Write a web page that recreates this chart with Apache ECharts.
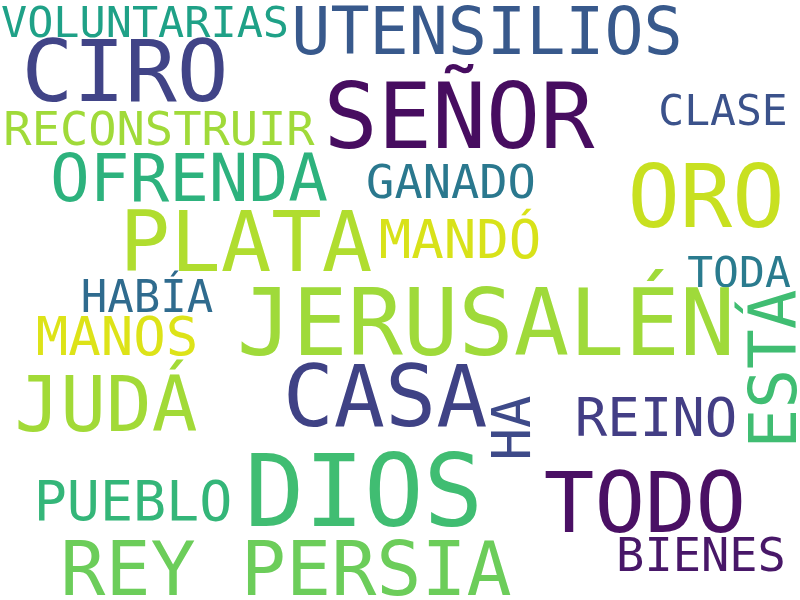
<!DOCTYPE html>
<html>
<head>
<meta charset="utf-8">
<script src="https://cdn.jsdelivr.net/npm/echarts@6/dist/echarts.min.js"></script>
<style>
html, body { margin: 0; padding: 0; background: #fff; }
#wordcloud { width: 800px; height: 600px; }
</style>
</head>
<body>
<div id="wordcloud"></div>
<script>
// palabras y su peso (tamaño de letra en px)
var words = ['VOLUNTARIAS', 'UTENSILIOS', 'CIRO', 'SEÑOR', 'CLASE', 'RECONSTRUIR', 'OFRENDA', 'GANADO',
	'PLATA', 'MANDÓ', 'ORO', 'TODA', 'HABÍA', 'JERUSALÉN', 'ESTÁ', 'MANOS', 'JUDÁ', 'CASA', 'HA',
	'REINO', 'DIOS', 'PUEBLO', 'TODO', 'BIENES', 'REY PERSIA'];
var weights = [43.5, 65, 86, 90, 43, 47, 66, 47, 84, 54, 87, 43, 44, 92, 66, 54, 76, 85, 54, 54, 99, 55, 84, 47, 75];
var vertical = [0, 0, 0, 0, 0, 0, 0, 0, 0, 0, 0, 0, 0, 0, 1, 0, 0, 0, 1, 0, 0, 0, 0, 0, 0];

// colocación (centro de las mayúsculas) que dio el algoritmo de la nube
var layoutX = [145, 487, 125, 459, 723, 159, 189, 451, 246, 460, 706, 739, 147, 486, 773, 117, 106, 385, 511, 656, 364, 133, 645, 701, 286];
var layoutY = [22, 31, 71, 117, 110, 129, 178, 182, 242, 239, 197, 272, 297, 323, 369, 336, 404, 396, 428, 417, 491, 501, 503, 555, 569];

var colors = ['#1fa187', '#38598c', '#414487', '#470d60', '#3b528b', '#a0da39', '#2db27d', '#2a788e',
	'#b0dd2f', '#d8e219', '#c8e020', '#2a7b8e', '#2f6b8e', '#9fda3a', '#40bd72', '#dde318', '#a2da37',
	'#3f4285', '#3e4a89', '#433e85', '#40bd72', '#34b679', '#4a1064', '#481768', '#6ccd5a'];

function buildData() {
	var data = [];
	for (var i = 0; i < words.length; i++) {
		var fs = weights[i];
		var x = layoutX[i], y = layoutY[i];
		// el ancla de la etiqueta queda un poco por debajo del centro de las mayúsculas
		if (vertical[i]) {
			x = x + 0.09 * fs;
		} else {
			y = y + 0.09 * fs;
		}
		data.push({
			name: words[i],
			value: [x, y],
			label: {
				fontSize: fs,
				color: colors[i],
				rotate: vertical[i] ? 90 : 0
			}
		});
	}
	return data;
}

var chart = echarts.init(document.getElementById('wordcloud'));
chart.setOption({
	animation: false,
	backgroundColor: '#ffffff',
	grid: { left: 0, right: 0, top: 0, bottom: 0 },
	xAxis: { type: 'value', min: 0, max: 800, show: false },
	yAxis: { type: 'value', min: 0, max: 600, inverse: true, show: false },
	series: [{
		type: 'scatter',
		symbolSize: 0,
		silent: true,
		itemStyle: { opacity: 1 },
		label: {
			show: true,
			position: 'inside',
			align: 'center',
			verticalAlign: 'middle',
			fontFamily: 'DejaVu Sans Mono',
			formatter: function(p) {
				return p.name;
			}
		},
		data: buildData()
	}]
});
</script>
</body>
</html>
